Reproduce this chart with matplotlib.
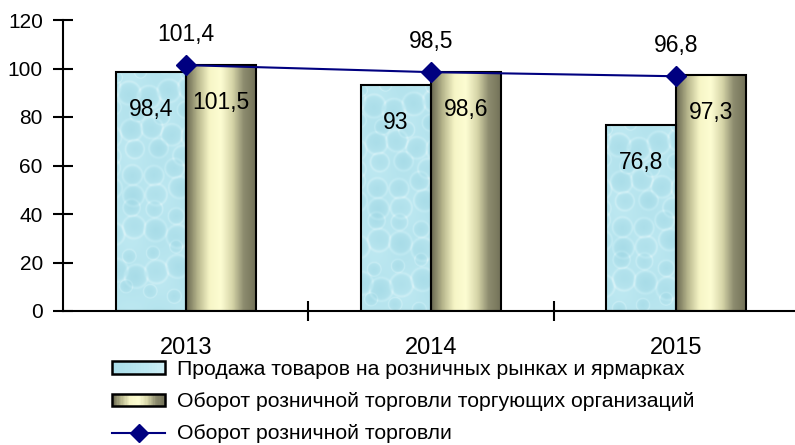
import numpy as np
import matplotlib
matplotlib.use("Agg")
import matplotlib.pyplot as plt
from matplotlib.colors import LinearSegmentedColormap
from matplotlib.legend_handler import HandlerBase
from matplotlib.patches import Rectangle
from matplotlib.lines import Line2D

plt.rcParams['font.family'] = ['Liberation Sans', 'DejaVu Sans']

# данные
years = ['2013', '2014', '2015']
rynki = [98.4, 93, 76.8]          # Продажа товаров на розничных рынках и ярмарках
organizacii = [101.5, 98.6, 97.3]  # Оборот розничной торговли торгующих организаций
oborot = [101.4, 98.5, 96.8]       # Оборот розничной торговли

lbl_rynki = 'Продажа товаров на розничных рынках и ярмарках'
lbl_org = 'Оборот розничной торговли торгующих организаций'
lbl_ob = 'Оборот розничной торговли'


def fmt(v):
    return f'{v:g}'.replace('.', ',')


# заливки
olive_cmap = LinearSegmentedColormap.from_list(
    'olive', ['#6b6a52', '#b9b88e', '#f6f5c6', '#fdfdd2', '#d6d5a8', '#8c8b6e', '#747359'])
blue_cmap = LinearSegmentedColormap.from_list(
    'blue', ['#86c8d8', '#a6dbe7', '#bde8f1', '#e4f7fa'])


def olive_texture(nx=60, ny=4):
    g = np.linspace(0, 1, nx)
    return olive_cmap(np.tile(g, (ny, 1)))


def blue_texture(nx, ny):
    # капли воды
    yy, xx = np.mgrid[0:ny, 0:nx].astype(float)
    t = np.full((ny, nx), 0.6) + 0.06 * np.sin(xx / 9.0) * np.cos(yy / 13.0)
    step = 22
    for j in range(-1, ny // step + 2):
        for i in range(-1, nx // step + 2):
            cx = i * step + (step / 2 if j % 2 else 0) + 5 * np.sin(i * 12.99 + j * 78.23)
            cy = j * step * 0.9 + 5 * np.cos(i * 39.35 + j * 11.13)
            r = 6 + 6 * abs(np.sin(i * 3.1 + j * 7.7))
            d = np.hypot(xx - cx, yy - cy) / r
            inside = d < 1.2
            t[inside] += (-0.18 * np.clip(1 - d, 0, 1) ** 0.5
                          + 0.16 * np.exp(-((d - 0.95) / 0.12) ** 2))[inside]
    return blue_cmap(np.clip(t, 0, 1))


fig = plt.figure(figsize=(7.95, 4.45), dpi=100)
ax = fig.add_axes([63 / 795, 1 - 311 / 445, 1 - 63 / 795, (311 - 20) / 445])

x = np.arange(len(years))
w = 0.285

b1 = ax.bar(x - w / 2, rynki, w, facecolor='none', edgecolor='black', linewidth=1.5, zorder=3)
b2 = ax.bar(x + w / 2, organizacii, w, facecolor='none', edgecolor='black', linewidth=1.5, zorder=3)

px_per_unit = 291 / 120
for bar in b1:
    ny = int(bar.get_height() * px_per_unit)
    ax.imshow(blue_texture(70, ny), extent=[bar.get_x(), bar.get_x() + bar.get_width(), 0, bar.get_height()],
              aspect='auto', zorder=2, interpolation='bilinear')
for bar in b2:
    ax.imshow(olive_texture(), extent=[bar.get_x(), bar.get_x() + bar.get_width(), 0, bar.get_height()],
              aspect='auto', zorder=2, interpolation='bilinear')

ax.plot(x, oborot, color='#000080', linewidth=1.5, marker='D', markersize=10, zorder=5)

for xi, v in zip(x, oborot):
    ax.annotate(fmt(v), (xi, v), xytext=(0, 22), textcoords='offset points',
                ha='center', va='center', fontsize=16.5)
for bars, vals in ((b1, rynki), (b2, organizacii)):
    for bar, v in zip(bars, vals):
        ax.annotate(fmt(v), (bar.get_x() + bar.get_width() / 2, v), xytext=(0, -27),
                    textcoords='offset points', ha='center', va='center', fontsize=16.5, zorder=6)

ax.set_xlim(-0.5, -0.5 + 732 / 245.3)
ax.set_ylim(0, 120)
ax.set_yticks(range(0, 121, 20))
ax.set_xticks(x)
ax.set_xticklabels(years)
ax.set_xticks([0.5, 1.5], minor=True)
ax.tick_params(axis='x', which='major', length=0, pad=19, labelsize=17)
ax.tick_params(axis='x', which='minor', direction='inout', length=14, width=1.5)
ax.tick_params(axis='y', direction='inout', length=15, width=1.5, pad=7, labelsize=15)

for s in ('top', 'right'):
    ax.spines[s].set_visible(False)
for s in ('left', 'bottom'):
    ax.spines[s].set_linewidth(1.5)
ax.spines['bottom'].set_zorder(4)


class GradHandler(HandlerBase):
    def __init__(self, colors):
        super().__init__()
        self.colors = colors

    def create_artists(self, legend, orig_handle, xdescent, ydescent, width, height, fontsize, trans):
        n = len(self.colors)
        arts = []
        for i, c in enumerate(self.colors):
            arts.append(Rectangle((-xdescent + width * i / n, -ydescent), width / n + 0.3, height,
                                  facecolor=c, edgecolor='none', transform=trans))
        arts.append(Rectangle((-xdescent, -ydescent), width, height, fill=False,
                              edgecolor='black', linewidth=1.8, transform=trans))
        return arts


h1 = Rectangle((0, 0), 1, 1)
h2 = Rectangle((0, 0), 1, 1)
h3 = Line2D([], [], color='#000080', linewidth=1.5, marker='D', markersize=9)

fig.legend([h1, h2, h3], [lbl_rynki, lbl_org, lbl_ob],
           handler_map={h1: GradHandler(blue_cmap(np.linspace(0.4, 0.8, 20))),
                        h2: GradHandler(olive_cmap(np.linspace(0, 1, 40)))},
           loc='upper left', bbox_to_anchor=(112 / 795, 1 - 360 / 445), frameon=False,
           fontsize=15.3, handlelength=2.5, handleheight=0.5, handletextpad=0.56,
           labelspacing=0.62, borderpad=0, borderaxespad=0)

fig.savefig('out.png', dpi=100)
